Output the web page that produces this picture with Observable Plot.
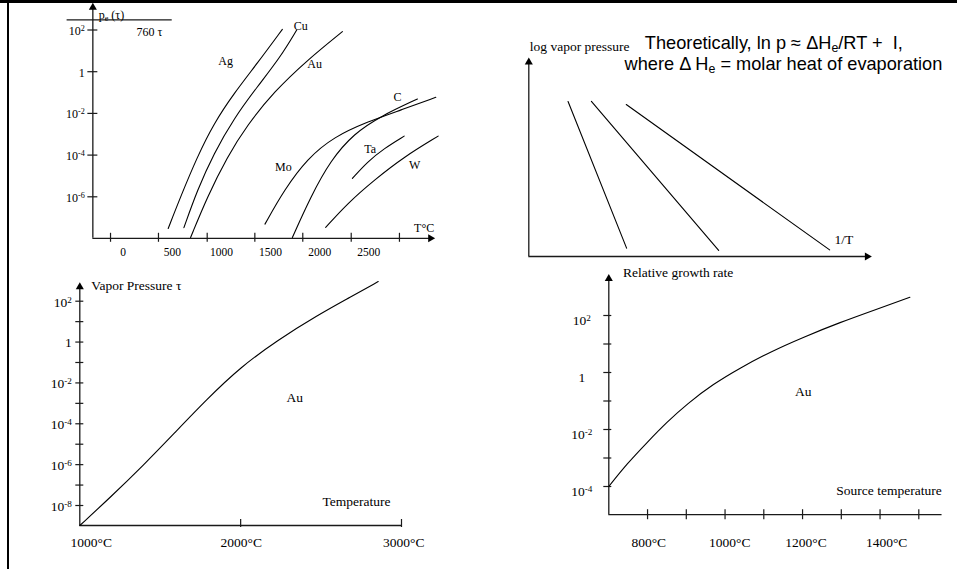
<!DOCTYPE html>
<html><head><meta charset="utf-8">
<script src="https://cdn.jsdelivr.net/npm/d3@7"></script>
<script src="https://cdn.jsdelivr.net/npm/@observablehq/plot@0.6"></script>
<style>
body{margin:0;background:#fff;}
#wrap{position:relative;width:957px;height:569px;overflow:hidden;background:#fff;}
#wrap svg{position:absolute;left:0;top:0;}
.bt{position:absolute;left:0;top:0;width:957px;height:3px;background:#000;}
.bl{position:absolute;left:7px;top:0;width:2px;height:569px;background:#000;}
</style></head><body><div id="wrap"><div class="bt"></div><div class="bl"></div></div>
<script>
// ---------- Panel 1: vapour pressure of metals (T in °C, log10 p in torr) ----------
const p1XLabelT = [0, 500, 1000, 1500, 2000, 2500];
const p1XLabels = ["0", "500", "1000", "1500", "2000", "2500"];
const p1XTickT = [-129, 359, 855, 1340, 1828, 2321, 2812];
const p1YTicks = [2, 0, -2, -4, -6];
const p1YLabels = ["10^{2}", "1", "10^{-2}", "10^{-4}", "10^{-6}"];
const atmLevel = 2.49;           // "760 τ" line
const atmLineT = [-571, 499];
const metals = ["Ag", "Cu", "Au", "Mo", "C", "Ta", "W"];
const agT = [458, 584, 754, 923, 1127, 1365, 1620];
const agP = [-7.52, -6.0, -4.08, -2.48, -1.04, 0.40, 2.03];
const cuT = [618, 754, 923, 1127, 1365, 1603, 1766];
const cuP = [-7.48, -5.68, -3.92, -2.24, -0.72, 0.72, 2.0];
const auT = [686, 856, 1059, 1263, 1535, 1875, 2231];
const auP = [-7.95, -6.0, -4.08, -2.56, -0.96, 0.56, 1.92];
const moT = [1443, 1637, 1875, 2146, 2486, 2826, 3182];
const moP = [-7.31, -5.68, -4.16, -3.12, -2.40, -1.84, -1.23];
const cT = [1722, 1908, 2112, 2350, 2622, 2995];
const cP = [-7.95, -6.0, -4.24, -2.96, -2.13, -1.31];
const taT = [2333, 2486, 2656, 2860];
const taP = [-5.12, -4.32, -3.68, -3.09];
const wT = [2061, 2282, 2554, 2860, 3206];
const wP = [-7.47, -6.32, -5.20, -4.08, -3.09];
const metalLabelT = [1042, 1807, 1949, 1630, 2792, 2513, 2968];
const metalLabelP = [0.51, 2.19, 0.36, -4.56, -1.23, -3.72, -4.48];

// ---------- Panel 2: log p vs 1/T (schematic, arbitrary units) ----------
const p2InvT1 = [1.16, 2.89], p2LogP1 = [7.98, 0.43];
const p2InvT2 = [1.85, 5.61], p2LogP2 = [7.98, 0.31];
const p2InvT3 = [2.88, 8.89], p2LogP3 = [7.82, 0.34];

// ---------- Panel 3: Au vapour pressure ----------
const p3XTicks = [2000, 3000];
const p3XLabelT = [1071, 2004, 3014];
const p3XLabels = ["1000°C", "2000°C", "3000°C"];
const p3YTicks = [2, 1, 0, -1, -2, -3, -4, -5, -6, -7, -8];
const p3YLabelVals = [2, 0, -2, -4, -6, -8];
const p3YLabels = ["10^{2}", "1", "10^{-2}", "10^{-4}", "10^{-6}", "10^{-8}"];
const p3AuT = [1000, 1191, 1398, 1584, 1792, 1999, 2227, 2476, 2683, 2855];
const p3AuP = [-8.98, -7.59, -6.01, -4.49, -2.78, -1.23, 0.08, 1.30, 2.20, 2.96];

// ---------- Panel 4: Au relative growth rate ----------
const p4XTicks = [800, 900, 1000, 1100, 1200, 1300, 1400, 1500];
const p4XLabelT = [803, 1012, 1209, 1417];
const p4XLabels = ["800°C", "1000°C", "1200°C", "1400°C"];
const p4YTicks = [2, 1, 0, -1, -2, -3, -4];
const p4YLabelVals = [2, 0, -2, -4];
const p4YLabels = ["10^{2}", "1", "10^{-2}", "10^{-4}"];
const p4AuT = [700, 747, 799, 850, 902, 970, 1039, 1116, 1202, 1297, 1391, 1477];
const p4AuP = [-4.0, -3.20, -2.45, -1.74, -1.10, -0.40, 0.16, 0.72, 1.24, 1.76, 2.22, 2.64];

const SERIF = "'Liberation Serif','Times New Roman',Times,serif";
const SANS = "'Liberation Sans',Arial,Helvetica,sans-serif";
const AX = "#1a1a1a";
const pts = (xs, ys) => xs.map((x, i) => ({x, y: ys[i]}));
const wrap = document.getElementById("wrap");
const NS = "http://www.w3.org/2000/svg";

// turn "^{..}" / "_{..}" markup into real superscript / subscript tspans
function richText(svg) {
  svg.querySelectorAll("text").forEach(t => {
    const s = t.textContent;
    if (!/[\^_]\{/.test(s)) return;
    t.textContent = "";
    const re = /([\^_])\{([^}]*)\}/g;
    let last = 0, m;
    while ((m = re.exec(s))) {
      if (m.index > last) t.appendChild(document.createTextNode(s.slice(last, m.index)));
      const ts = document.createElementNS(NS, "tspan");
      ts.setAttribute("font-size", "68%");
      ts.setAttribute("baseline-shift", m[1] === "^" ? "45%" : "-22%");
      ts.textContent = m[2];
      t.appendChild(ts);
      last = re.lastIndex;
    }
    if (last < s.length) t.appendChild(document.createTextNode(s.slice(last)));
  });
}

function draw(xd, xr, yd, yr, marks) {
  const svg = Plot.plot({
    width: 957, height: 569,
    x: {domain: xd, range: xr, axis: null},
    y: {domain: yd, range: yr, axis: null},
    style: {background: "transparent", overflow: "visible", fontFamily: SERIF, color: "#000"},
    marks
  });
  richText(svg);
  wrap.appendChild(svg);
}
const arrowUp = (x, y) => Plot.dot([{x, y}], {x: "x", y: "y", symbol: "triangle", r: 3, fill: "#000", stroke: "none"});
const arrowRight = (x, y) => Plot.dot([{x, y}], {x: "x", y: "y", symbol: "triangle", r: 3, fill: "#000", stroke: "none", rotate: 90});
const curve = (xs, ys) => Plot.line(pts(xs, ys), {x: "x", y: "y", stroke: "#000", strokeWidth: 1.1, curve: "basis"});

// Panel 1
{
  const ax = -309, ay = -7.99, top = 3.08, right = 3128;
  const lines = [[agT, agP], [cuT, cuP], [auT, auP], [moT, moP], [cT, cP], [taT, taP], [wT, wP]];
  draw([0, 2500], [122.7, 368.3], [2, -6], [29.5, 196.3], [
    Plot.ruleX([ax], {y1: ay, y2: top, stroke: AX, strokeWidth: 1.3}),
    Plot.ruleY([ay], {x1: ax, x2: right, stroke: AX, strokeWidth: 1.3}),
    Plot.ruleY([atmLevel], {x1: atmLineT[0], x2: atmLineT[1], stroke: AX, strokeWidth: 1.2}),
    Plot.ruleY(p1YTicks, {y: d => d, x1: ax, x2: ax, insetLeft: -5, insetRight: -5, stroke: AX, strokeWidth: 1.2}),
    Plot.ruleX(p1XTickT, {x: d => d, y1: ay, y2: ay, insetTop: -5, insetBottom: -4, stroke: AX, strokeWidth: 1.2}),
    Plot.text(p1YTicks, {x: ax, y: d => d, text: (d, i) => p1YLabels[i], textAnchor: "end", dx: -8, dy: 1, fontSize: 12}),
    Plot.text(p1XLabelT, {x: d => d, y: ay, text: (d, i) => p1XLabels[i], dy: 14, fontSize: 11.5}),
    ...lines.map(([t, p]) => curve(t, p)),
    Plot.text(metals, {x: (d, i) => metalLabelT[i], y: (d, i) => metalLabelP[i], text: d => d, fontSize: 12}),
    Plot.text(["p_{e} (τ)"], {x: -249, y: 2.72, text: d => d, textAnchor: "start", fontSize: 12}),
    Plot.text(["760 τ"], {x: 268, y: 1.89, text: d => d, fontSize: 12}),
    Plot.text(["T°C"], {x: 3063, y: -7.49, text: d => d, fontSize: 12}),
    arrowUp(ax, top), arrowRight(right, ay)
  ]);
}

// Panel 2
draw([0, 10], [528.3, 866.7], [0, 10], [256, 61.7], [
  Plot.ruleX([0], {y1: 0, y2: 10, stroke: AX, strokeWidth: 1.3}),
  Plot.ruleY([0], {x1: 0, x2: 10, stroke: AX, strokeWidth: 1.3}),
  curve(p2InvT1, p2LogP1), curve(p2InvT2, p2LogP2), curve(p2InvT3, p2LogP3),
  Plot.text(["log vapor pressure"], {x: 0.03, y: 10.81, text: d => d, textAnchor: "start", fontSize: 13.5}),
  Plot.text(["1/T"], {x: 9.31, y: 0.86, text: d => d, fontSize: 13.5}),
  Plot.text(["Theoretically, ln p ≈ ΔH_{e}/RT +  I,"], {x: 3.43, y: 11.0, text: d => d, textAnchor: "start", fontSize: 18.2, fontFamily: SANS}),
  Plot.text(["where Δ H_{e} = molar heat of evaporation"], {x: 2.83, y: 9.88, text: d => d, textAnchor: "start", fontSize: 18.2, fontFamily: SANS}),
  arrowUp(0, 10), arrowRight(10, 0)
]);

// Panel 3
{
  const ay = -8.98, top = 2.7;
  draw([1000, 3000], [79.3, 401], [2, -8], [300.7, 505], [
    Plot.ruleX([1000], {y1: ay, y2: top, stroke: AX, strokeWidth: 1.3}),
    Plot.ruleY([ay], {x1: 1000, x2: 3000, stroke: AX, strokeWidth: 1.3}),
    Plot.ruleY(p3YTicks, {y: d => d, x1: 1000, x2: 1000, insetLeft: -4, insetRight: -4, stroke: AX, strokeWidth: 1.2}),
    Plot.ruleX(p3XTicks, {x: d => d, y1: ay, y2: ay, insetTop: -6, insetBottom: -2, stroke: AX, strokeWidth: 1.2}),
    Plot.text(p3YLabelVals, {x: 1000, y: d => d, text: (d, i) => p3YLabels[i], textAnchor: "end", dx: -8, dy: 1, fontSize: 13.5}),
    Plot.text(p3XLabelT, {x: d => d, y: ay, text: (d, i) => p3XLabels[i], dy: 17, fontSize: 13.5}),
    curve(p3AuT, p3AuP),
    Plot.text(["Au"], {x: 2337, y: -2.70, text: d => d, fontSize: 13.5}),
    Plot.text(["Temperature"], {x: 2720, y: -7.79, text: d => d, fontSize: 13.5}),
    Plot.text(["Vapor Pressure τ"], {x: 1071, y: 2.77, text: d => d, textAnchor: "start", fontSize: 13.5}),
    arrowUp(1000, top)
  ]);
}

// Panel 4
{
  const ay = -4.99, top = 3.29, right = 1560;
  draw([700, 1500], [608.3, 918.3], [2, -4], [315, 486], [
    Plot.ruleX([700], {y1: ay, y2: top, stroke: AX, strokeWidth: 1.3}),
    Plot.ruleY([ay], {x1: 700, x2: right, stroke: AX, strokeWidth: 1.3}),
    Plot.ruleY(p4YTicks, {y: d => d, x1: 700, x2: 700, insetLeft: -5, insetRight: -3, stroke: AX, strokeWidth: 1.2}),
    Plot.ruleX(p4XTicks, {x: d => d, y1: ay, y2: ay, insetTop: -5, insetBottom: -5, stroke: AX, strokeWidth: 1.2}),
    Plot.text(p4YLabelVals, {x: 700, y: d => d, text: (d, i) => p4YLabels[i], dx: -27, dy: 5, fontSize: 13.5}),
    Plot.text(p4XLabelT, {x: d => d, y: ay, text: (d, i) => p4XLabels[i], dy: 28, fontSize: 13.5}),
    curve(p4AuT, p4AuP),
    Plot.text(["Au"], {x: 1202, y: -0.69, text: d => d, fontSize: 13.5}),
    Plot.text(["Source temperature"], {x: 1423, y: -4.16, text: d => d, fontSize: 13.5}),
    Plot.text(["Relative growth rate"], {x: 879, y: 3.50, text: d => d, fontSize: 13.5}),
    arrowUp(700, top)
  ]);
}
</script>
</body></html>
